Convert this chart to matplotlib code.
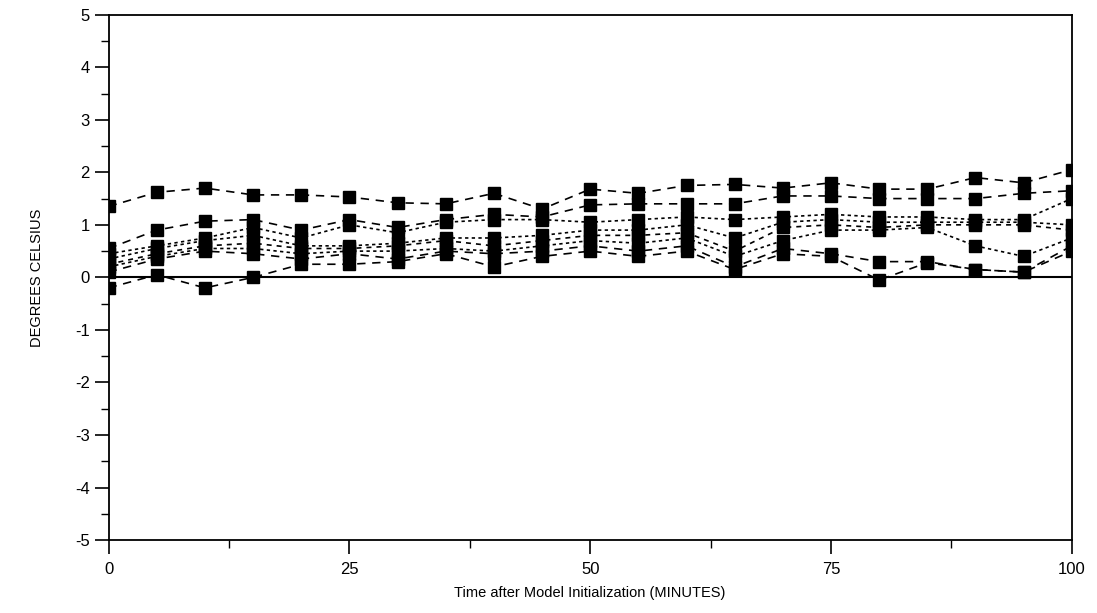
import numpy as np
import matplotlib
matplotlib.use("Agg")
import matplotlib.pyplot as plt
from matplotlib.ticker import MultipleLocator

plt.rcParams['font.family'] = ['Liberation Sans', 'DejaVu Sans']
plt.rcParams['axes.unicode_minus'] = False

# Time after model initialization (minutes)
minutes = list(range(0, 101, 5))

# Temperature series (degrees Celsius)
s1 = [1.35, 1.62, 1.70, 1.57, 1.57, 1.53, 1.42, 1.40, 1.60, 1.30, 1.68,
      1.60, 1.75, 1.77, 1.70, 1.80, 1.68, 1.68, 1.90, 1.80, 2.05]
s2 = [0.55, 0.90, 1.07, 1.10, 0.90, 1.10, 0.95, 1.10, 1.20, 1.15, 1.38,
      1.40, 1.40, 1.40, 1.55, 1.55, 1.50, 1.50, 1.50, 1.60, 1.65]
s3 = [0.45, 0.60, 0.75, 0.95, 0.75, 1.00, 0.85, 1.05, 1.10, 1.10, 1.05,
      1.10, 1.15, 1.10, 1.15, 1.20, 1.15, 1.15, 1.10, 1.10, 1.50]
s4 = [0.35, 0.55, 0.70, 0.80, 0.60, 0.60, 0.65, 0.75, 0.75, 0.80, 0.90,
      0.90, 1.00, 0.75, 1.05, 1.10, 1.05, 1.05, 1.05, 1.05, 1.00]
s5 = [0.25, 0.45, 0.60, 0.65, 0.55, 0.55, 0.60, 0.70, 0.60, 0.70, 0.80,
      0.80, 0.85, 0.50, 0.95, 1.00, 0.95, 1.00, 1.00, 1.00, 0.90]
s6 = [0.20, 0.40, 0.55, 0.55, 0.45, 0.50, 0.50, 0.55, 0.50, 0.60, 0.70,
      0.65, 0.75, 0.40, 0.70, 0.90, 0.90, 0.95, 0.60, 0.40, 0.75]
s7 = [0.10, 0.35, 0.50, 0.45, 0.35, 0.45, 0.35, 0.50, 0.45, 0.50, 0.60,
      0.50, 0.60, 0.20, 0.55, 0.45, 0.30, 0.30, 0.15, 0.10, 0.60]
s8 = [-0.20, 0.05, -0.20, 0.00, 0.25, 0.25, 0.30, 0.45, 0.20, 0.40, 0.50,
      0.40, 0.50, 0.15, 0.45, 0.40, -0.05, 0.28, 0.15, 0.10, 0.50]

series = [s1, s2, s3, s4, s5, s6, s7, s8]
styles = [(0, (5, 4)), (0, (5, 4)), (0, (2, 2)), (0, (2, 2)),
          (0, (3, 3)), (0, (2, 2)), (0, (5, 4)), (0, (5, 4))]

fig = plt.figure(figsize=(10.97, 6.13), dpi=100)
ax = fig.add_axes([0.099, 0.119, 0.878, 0.857])

for s, ls in zip(series, styles):
    ax.plot(minutes, s, color='black', linestyle=ls, linewidth=1.2,
            marker='s', markersize=8, markerfacecolor='black',
            markeredgecolor='black')

ax.axhline(0, color='black', linewidth=1.5)

ax.set_xlim(0, 100)
ax.set_ylim(-5, 5)
ax.xaxis.set_major_locator(MultipleLocator(25))
ax.xaxis.set_minor_locator(MultipleLocator(12.5))
ax.yaxis.set_major_locator(MultipleLocator(1))
ax.yaxis.set_minor_locator(MultipleLocator(0.5))
ax.tick_params(axis='both', which='major', length=10, width=1.2,
               labelsize=12, direction='out')
ax.tick_params(axis='both', which='minor', length=6, width=1.0,
               direction='out')
ax.tick_params(axis='x', pad=6)

for sp in ax.spines.values():
    sp.set_linewidth(1.3)

ax.set_xlabel('Time after Model Initialization (MINUTES)', fontsize=10.5,
              labelpad=6)
ax.set_ylabel('DEGREES CELSIUS', fontsize=10.5, labelpad=22)

fig.savefig('out.png', dpi=100)
